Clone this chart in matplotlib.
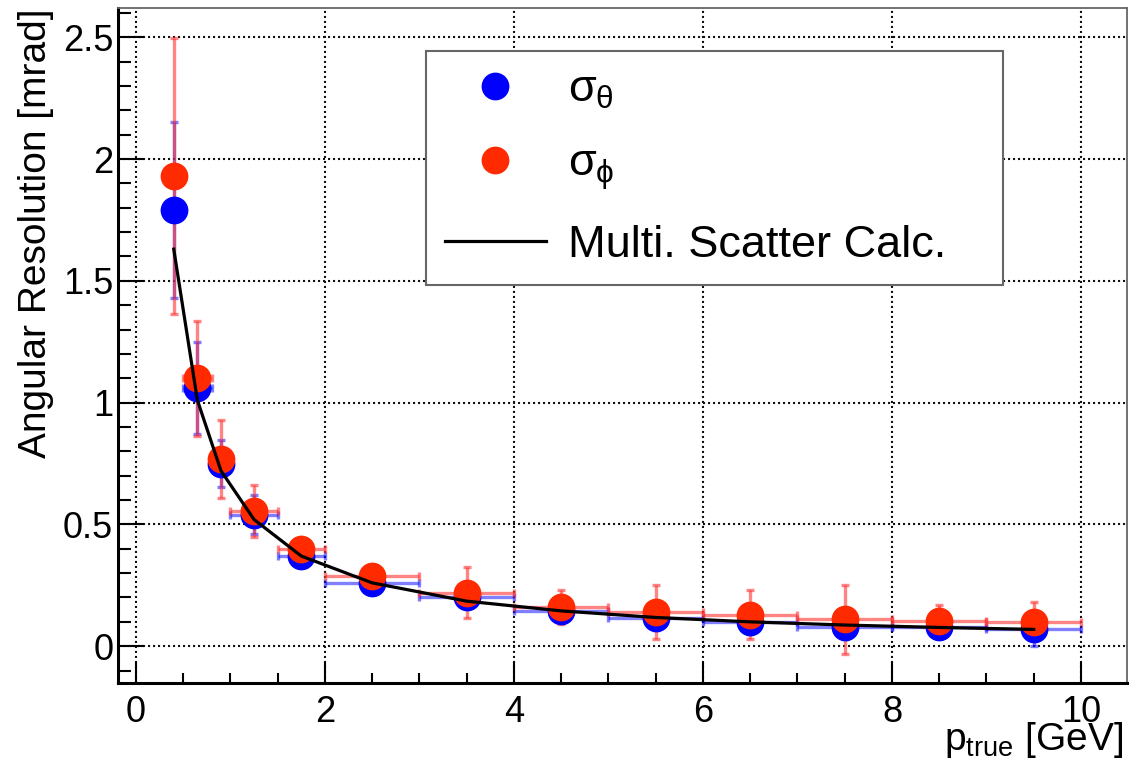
import matplotlib
matplotlib.use("Agg")
import matplotlib.pyplot as plt
from matplotlib.ticker import MultipleLocator, FuncFormatter
from matplotlib.lines import Line2D

# ---- data ----
p_true = [0.4, 0.65, 0.9, 1.25, 1.75, 2.5, 3.5, 4.5, 5.5, 6.5, 7.5, 8.5, 9.5]
p_err = [0.1, 0.15, 0.1, 0.25, 0.25, 0.5, 0.5, 0.5, 0.5, 0.5, 0.5, 0.5, 0.5]

sigma_theta = [1.79, 1.06, 0.75, 0.54, 0.37, 0.26, 0.20, 0.145, 0.115, 0.10, 0.08, 0.08, 0.07]
sigma_theta_err = [0.36, 0.19, 0.095, 0.08, 0.04, 0.03, 0.04, 0.04, 0.05, 0.05, 0.05, 0.04, 0.07]

sigma_phi = [1.93, 1.10, 0.77, 0.555, 0.40, 0.29, 0.22, 0.16, 0.14, 0.13, 0.11, 0.105, 0.10]
sigma_phi_err = [0.565, 0.235, 0.16, 0.105, 0.04, 0.03, 0.105, 0.07, 0.11, 0.10, 0.14, 0.065, 0.08]

ms_calc = [1.63, 1.01, 0.72, 0.52, 0.37, 0.26, 0.185, 0.145, 0.118, 0.10, 0.087, 0.077, 0.069]

x_ticks = [0, 2, 4, 6, 8, 10]
y_ticks = [0, 0.5, 1, 1.5, 2, 2.5]

# ---- style ----
plt.rcParams['font.family'] = ['Liberation Sans', 'DejaVu Sans']
plt.rcParams['mathtext.fontset'] = 'custom'
plt.rcParams['mathtext.rm'] = 'Liberation Sans'
plt.rcParams['mathtext.it'] = 'Liberation Sans'
plt.rcParams['mathtext.bf'] = 'Liberation Sans:bold'

BLUE = '#0000ff'
RED = '#ff2a00'

fig = plt.figure(figsize=(11.3, 7.67), dpi=100)
ax = fig.add_axes([118/1130, 84/767, 1009/1130, 675/767])

ax.set_xlim(-0.19, 10.487)
ax.set_ylim(-0.151, 2.62)

# error bars
ax.errorbar(p_true, sigma_theta, yerr=sigma_theta_err, xerr=p_err, fmt='none',
            ecolor=(0, 0, 1, 0.5), elinewidth=2.4, capsize=3, capthick=2.4, zorder=3)
ax.errorbar(p_true, sigma_phi, yerr=sigma_phi_err, xerr=p_err, fmt='none',
            ecolor=(1, 0.2, 0.2, 0.6), elinewidth=2.4, capsize=3, capthick=2.4, zorder=3.1)
# markers
ax.plot(p_true, sigma_theta, 'o', color=BLUE, markersize=20, markeredgewidth=0, zorder=4)
ax.plot(p_true, sigma_phi, 'o', color=RED, markersize=20, markeredgewidth=0, zorder=4.1)
# calculation curve
ax.plot(p_true, ms_calc, '-', color='black', linewidth=2.3, zorder=5)

# axes / ticks
ax.set_xticks(x_ticks)
ax.set_yticks(y_ticks)
ax.xaxis.set_minor_locator(MultipleLocator(0.5))
ax.yaxis.set_minor_locator(MultipleLocator(0.1))
fmt = FuncFormatter(lambda v, pos: '%g' % v)
ax.xaxis.set_major_formatter(fmt)
ax.yaxis.set_major_formatter(fmt)
ax.tick_params(axis='both', which='both', direction='in', top=False, right=False,
               labelsize=26, colors='black')
ax.tick_params(axis='x', which='major', length=15, width=1.5, pad=9)
ax.tick_params(axis='x', which='minor', length=7.5, width=1.5)
ax.tick_params(axis='y', which='major', length=19, width=1.5, pad=3.5)
ax.tick_params(axis='y', which='minor', length=9.5, width=1.5)

ax.grid(True, which='major', color='#111111', linestyle=(0, (1.0, 1.4)), linewidth=1.5)
ax.set_axisbelow(True)

for s in ['left', 'bottom']:
    ax.spines[s].set_color('black')
    ax.spines[s].set_linewidth(2.2)
for s in ['top', 'right']:
    ax.spines[s].set_color('#666666')
    ax.spines[s].set_linewidth(1.3)

ax.set_ylabel('Angular Resolution [mrad]', fontsize=28, loc='top', labelpad=6)
ax.set_xlabel(r'$\mathrm{p}_{\mathrm{true}}$ [GeV]', fontsize=28, ha='right', va='baseline')
ax.xaxis.set_label_coords(0.996, -0.1)

handles = [
    Line2D([], [], linestyle='none', marker='o', color=BLUE, markersize=20, markeredgewidth=0),
    Line2D([], [], linestyle='none', marker='o', color=RED, markersize=20, markeredgewidth=0),
    Line2D([], [], color='black', linewidth=2.3),
]
labels = [r'$\sigma_{\theta}$', r'$\sigma_{\phi}$', 'Multi. Scatter Calc.']
leg = ax.legend(handles, labels, loc='upper left',
                bbox_to_anchor=(0.305, 0.596, 0.572, 0.340), mode='expand',
                fontsize=32.5, frameon=True, fancybox=False, shadow=False,
                borderpad=0.42, labelspacing=0.72, handlelength=2.24,
                handletextpad=0.5, borderaxespad=0)
leg.get_frame().set_edgecolor('#666666')
leg.get_frame().set_linewidth(1.5)
leg.get_frame().set_alpha(1)

fig.savefig('out.png', dpi=100)
